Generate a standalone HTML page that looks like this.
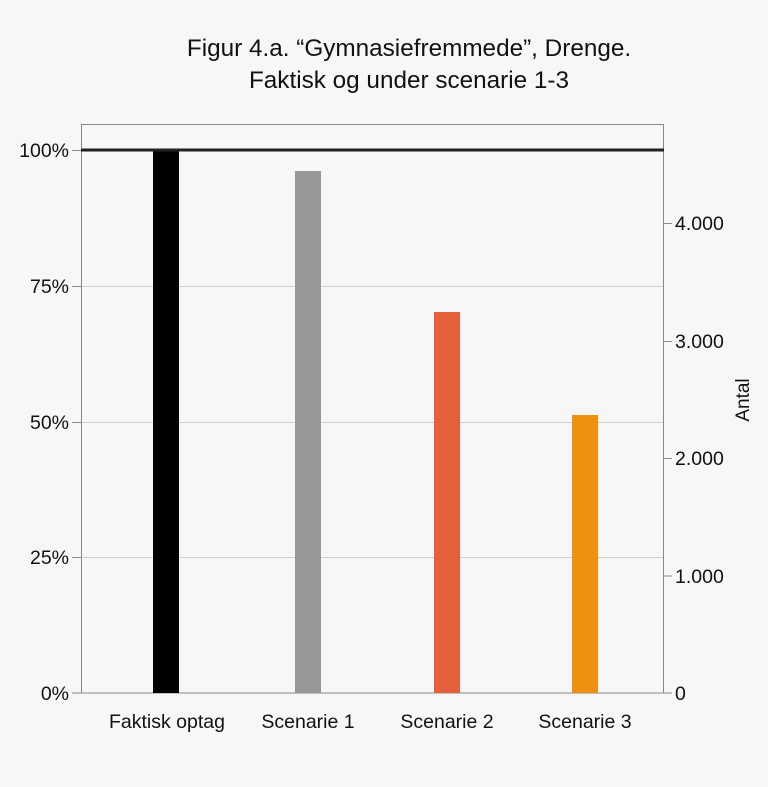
<!DOCTYPE html>
<html><head><meta charset="utf-8"><style>
html,body{margin:0;padding:0;background:#f7f7f7;}
</style></head><body>
<svg width="768" height="787" xmlns="http://www.w3.org/2000/svg" font-family="Liberation Sans, sans-serif" style="display:block">
<rect width="768" height="787" fill="#f7f7f7"/>
<text x="409" y="56" font-size="24.3" text-anchor="middle" fill="#111">Figur 4.a. “Gymnasiefremmede”, Drenge.</text>
<text x="409" y="88" font-size="24.3" text-anchor="middle" fill="#111">Faktisk og under scenarie 1-3</text>
<g stroke="#cfcfcf" stroke-width="1">
<line x1="81" y1="286.5" x2="664" y2="286.5"/>
<line x1="81" y1="422.5" x2="664" y2="422.5"/>
<line x1="81" y1="557.5" x2="664" y2="557.5"/>
</g>
<rect x="81.5" y="124.5" width="582" height="568.5" fill="none" stroke="#888" stroke-width="1"/>
<rect x="153" y="150" width="26" height="543" fill="#000"/>
<rect x="295" y="171" width="26" height="522" fill="#98989a"/>
<rect x="434" y="312" width="26" height="381" fill="#e5603a"/>
<rect x="572" y="415" width="26" height="278" fill="#f0900f"/>
<line x1="81" y1="150" x2="664" y2="150" stroke="#222" stroke-width="3"/>
<g stroke="#888" stroke-width="1">
<line x1="72" y1="150.5" x2="81" y2="150.5"/><line x1="72" y1="286.5" x2="81" y2="286.5"/>
<line x1="72" y1="422.5" x2="81" y2="422.5"/><line x1="72" y1="557.5" x2="81" y2="557.5"/>
<line x1="72" y1="693" x2="81" y2="693"/>
<line x1="664" y1="223.5" x2="672" y2="223.5"/><line x1="664" y1="341.5" x2="672" y2="341.5"/>
<line x1="664" y1="458.5" x2="672" y2="458.5"/><line x1="664" y1="576" x2="672" y2="576"/>
<line x1="664" y1="693" x2="672" y2="693"/>
</g>
<g font-size="19.5" fill="#111" text-anchor="end">
<text x="69" y="157">100%</text><text x="69" y="293">75%</text><text x="69" y="429">50%</text>
<text x="69" y="564">25%</text><text x="69" y="700">0%</text>
</g>
<g font-size="19.5" fill="#111">
<text x="675" y="230">4.000</text><text x="675" y="348">3.000</text><text x="675" y="465">2.000</text>
<text x="675" y="583">1.000</text><text x="675" y="700">0</text>
</g>
<text transform="translate(749,400) rotate(-90)" font-size="19" fill="#111" text-anchor="middle">Antal</text>
<g font-size="19.5" fill="#111" text-anchor="middle">
<text x="167" y="728">Faktisk optag</text><text x="308" y="728">Scenarie 1</text>
<text x="447" y="728">Scenarie 2</text><text x="585" y="728">Scenarie 3</text>
</g>
</svg>
</body></html>
